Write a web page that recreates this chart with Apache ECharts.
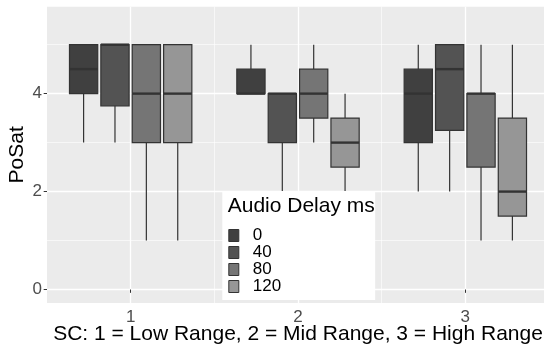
<!DOCTYPE html>
<html>
<head>
<meta charset="utf-8">
<script src="https://cdn.jsdelivr.net/npm/echarts@6/dist/echarts.min.js"></script>
<style>
  html, body { margin: 0; padding: 0; background: #fff; }
  #main { width: 544px; height: 349px; }
</style>
</head>
<body>
<div id="main"></div>
<script>
// SC groups and audio delay levels
const sc = [1, 2, 3];
const delays = ['0', '40', '80', '120'];

// boxes per SC: [lower whisker, Q1, median, Q3, upper whisker]
const delay0 = [[3, 4, 4.5, 5, 5], [4, 4, 4, 4.5, 5], [2, 3, 4, 4.5, 5]];
const delay40 = [[3, 3.75, 5, 5, 5], [2, 3, 4, 4, 4], [2, 3.25, 4.5, 5, 5]];
const delay80 = [[1, 3, 4, 5, 5], [3, 3.5, 4, 4.5, 5], [1, 2.5, 4, 4, 5]];
const delay120 = [[1, 3, 4, 5, 5], [2, 2.5, 3, 3.5, 4], [1, 1.5, 2, 3.5, 5]];

const yTicks = [0, 2, 4];
const yMinor = [1, 3, 5];
const xMinor = [1.5, 2.5];

const fills = ['#404040', '#535353', '#757575', '#969696'];
const font = 'Liberation Sans, Arial, sans-serif';

// dodge layout, like ggplot position_dodge(0.75)
const dodge = 0.75 / 4;
const boxW = dodge * 0.9;

function renderBox(params, api) {
  const x = api.value(0);
  const tl = api.coord([x - boxW / 2, api.value(4)]);
  const br = api.coord([x + boxW / 2, api.value(2)]);
  const hi = api.coord([x, api.value(5)]);
  const lo = api.coord([x, api.value(1)]);
  const md = api.coord([x, api.value(3)]);
  const line = { stroke: '#333333', lineWidth: 1.2 };
  return {
    type: 'group',
    children: [
      { type: 'line', shape: { x1: hi[0], y1: hi[1], x2: hi[0], y2: tl[1] }, style: line },
      { type: 'line', shape: { x1: lo[0], y1: br[1], x2: lo[0], y2: lo[1] }, style: line },
      { type: 'rect', shape: { x: tl[0], y: tl[1], width: br[0] - tl[0], height: br[1] - tl[1] },
        style: { fill: api.visual('color'), stroke: '#333333', lineWidth: 1.2 } },
      { type: 'line', shape: { x1: tl[0], y1: md[1], x2: br[0], y2: md[1] },
        style: { stroke: '#333333', lineWidth: 2.4 } }
    ]
  };
}

const boxes = [delay0, delay40, delay80, delay120];
const series = delays.map((d, i) => ({
  name: d,
  type: 'custom',
  renderItem: renderBox,
  itemStyle: { color: fills[i] },
  encode: { x: 0, y: [1, 2, 3, 4, 5] },
  data: sc.map((s, j) => [s + (i - 1.5) * dodge].concat(boxes[i][j]))
}));

const chart = echarts.init(document.getElementById('main'));
chart.setOption({
  animation: false,
  backgroundColor: '#ffffff',
  textStyle: { fontFamily: font },
  grid: { left: 47, top: 6.7, width: 502, height: 296.3, backgroundColor: '#ebebeb', show: true,
          borderWidth: 0, outerBoundsMode: 'none' },
  title: {
    text: 'Audio Delay ms', left: 222.7, top: 191,
    textStyle: { fontFamily: font, fontSize: 21, fontWeight: 'normal', color: '#000' }
  },
  legend: {
    data: delays, orient: 'vertical', left: 222.3, top: 191,
    padding: [36, 94, 5, 6], itemGap: 0, itemWidth: 10, itemHeight: 12,
    backgroundColor: '#ffffff', icon: 'rect',
    itemStyle: { borderColor: '#333333', borderWidth: 1 },
    textStyle: { fontFamily: font, fontSize: 17, color: '#000', lineHeight: 16, padding: [0, 0, 0, 9] }
  },
  xAxis: [{
    type: 'value', min: 0.5, max: 3.5,
    name: 'SC: 1 = Low Range, 2 = Mid Range, 3 = High Range',
    nameLocation: 'middle', nameGap: 21, nameMoveOverlap: false,
    nameTextStyle: { fontFamily: font, fontSize: 21, color: '#000' },
    axisLine: { show: false },
    axisTick: { show: true, customValues: sc, length: 3.3, lineStyle: { color: '#333333' } },
    axisLabel: { customValues: sc, fontSize: 17, color: '#4d4d4d', margin: 6 },
    splitLine: { show: true, lineStyle: { color: '#ffffff', width: 1.3 } }
  }, {
    type: 'value', min: 0.5, max: 3.5, position: 'bottom',
    axisLine: { show: false },
    axisTick: { show: false, customValues: xMinor },
    axisLabel: { show: false, customValues: xMinor },
    splitLine: { show: true, lineStyle: { color: '#ffffff', width: 0.6 } }
  }],
  yAxis: [{
    type: 'value', min: -0.275, max: 5.775,
    name: 'PoSat', nameLocation: 'middle', nameGap: 19, nameMoveOverlap: false,
    nameTextStyle: { fontFamily: font, fontSize: 21, color: '#000' },
    axisLine: { show: false },
    axisTick: { show: true, customValues: yTicks, length: 3.3, lineStyle: { color: '#333333' } },
    axisLabel: { customValues: yTicks, fontSize: 17, color: '#4d4d4d', margin: 5 },
    splitLine: { show: true, lineStyle: { color: '#ffffff', width: 1.3 } }
  }, {
    type: 'value', min: -0.275, max: 5.775, position: 'left',
    axisLine: { show: false },
    axisTick: { show: false, customValues: yMinor },
    axisLabel: { show: false, customValues: yMinor },
    splitLine: { show: true, lineStyle: { color: '#ffffff', width: 0.6 } }
  }],
  series: series
});
</script>
</body>
</html>
